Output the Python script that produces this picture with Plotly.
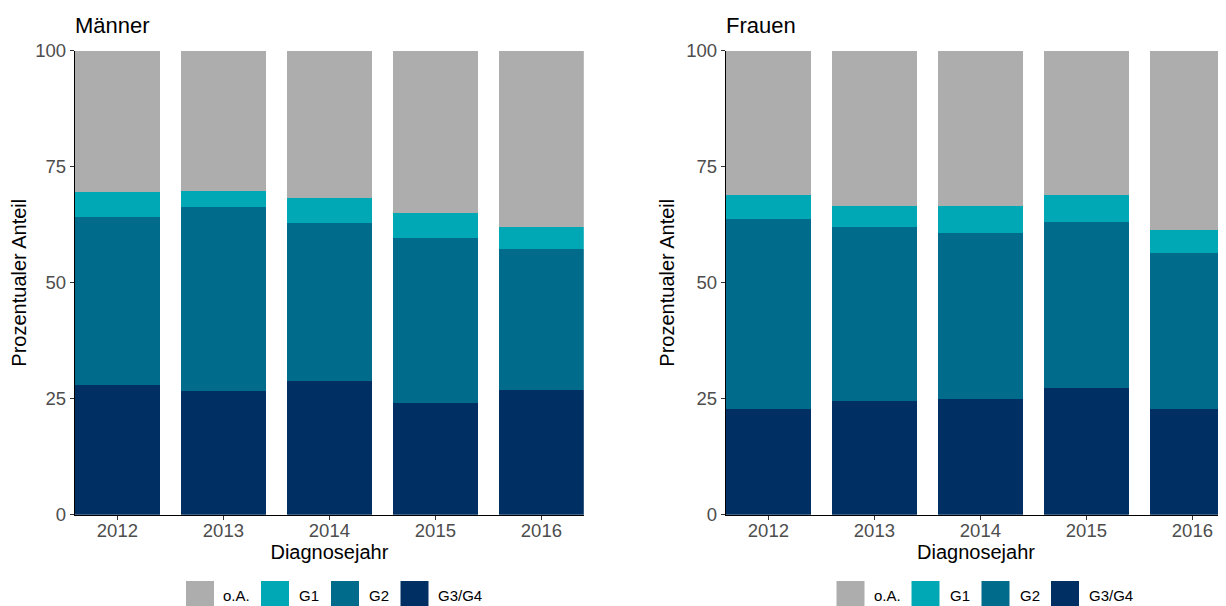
import plotly.graph_objects as go

# ---------------- data ----------------
years = ["2012", "2013", "2014", "2015", "2016"]
categories = ["G3/G4", "G2", "G1", "o.A."]          # stacking order, bottom -> top
legend_order = ["o.A.", "G1", "G2", "G3/G4"]

maenner_g34 = [28.0, 26.7, 28.9, 24.1, 26.9]
maenner_g2 = [36.2, 39.7, 34.0, 35.6, 30.4]
maenner_g1 = [5.4, 3.4, 5.4, 5.4, 4.6]
maenner_oa = [30.4, 30.2, 31.7, 34.9, 38.1]

frauen_g34 = [22.8, 24.4, 25.0, 27.4, 22.8]
frauen_g2 = [41.0, 37.7, 35.8, 35.7, 33.7]
frauen_g1 = [5.0, 4.5, 5.8, 5.7, 4.9]
frauen_oa = [31.2, 33.4, 33.4, 31.2, 38.6]

y_ticks = [0, 25, 50, 75, 100]
panel_titles = ["Männer", "Frauen"]
x_title = "Diagnosejahr"
y_title = "Prozentualer Anteil"

# ---------------- style ----------------
PAGE_OFF = 8                      # default body margin of the html page
W, H = 1226 - PAGE_OFF, 606 - PAGE_OFF
COLORS = {"o.A.": "#ADADAD", "G1": "#00A8B5", "G2": "#006B8B", "G3/G4": "#003063"}
FONT = "Liberation Sans, Arial, Helvetica, sans-serif"


def px(x):
    """window pixel x -> paper fraction"""
    return (x - PAGE_OFF) / W


def py(y):
    """window pixel y -> paper fraction"""
    return (H - (y - PAGE_OFF)) / H


series = {
    "Männer": {"G3/G4": maenner_g34, "G2": maenner_g2, "G1": maenner_g1, "o.A.": maenner_oa},
    "Frauen": {"G3/G4": frauen_g34, "G2": frauen_g2, "G1": frauen_g1, "o.A.": frauen_oa},
}

fig = go.Figure()
for i, panel in enumerate(panel_titles):
    xa = "x" if i == 0 else "x2"
    ya = "y" if i == 0 else "y2"
    for cat in categories:
        fig.add_trace(go.Bar(
            x=years, y=series[panel][cat], name=cat,
            marker=dict(color=COLORS[cat], line=dict(width=0)),
            xaxis=xa, yaxis=ya, showlegend=False,
            hovertemplate=panel + " %{x}<br>" + cat + ": %{y:.1f}%<extra></extra>",
        ))

panel_x0 = [75, 726]          # left edge of each panel's plot area (window px)
panel_x1 = [583.8, 1226]
y_top, y_bot = 50.7, 514.7

axis_common = dict(
    showgrid=False, zeroline=False, showline=True, linecolor="black", linewidth=1.3,
    ticks="outside", ticklen=4, tickwidth=1.1, tickcolor="#333333",
    tickfont=dict(family=FONT, size=18.5, color="#4D4D4D"),
    automargin=False, fixedrange=True,
)

fig.update_layout(
    width=W, height=H, margin=dict(l=0, r=0, t=0, b=0),
    paper_bgcolor="white", plot_bgcolor="white",
    barmode="stack", bargap=0.2,
    font=dict(family=FONT, color="black"),
    showlegend=False,
    xaxis=dict(domain=[px(panel_x0[0]), px(panel_x1[0])], type="category",
               categoryorder="array", categoryarray=years, range=[-0.4, 4.4],
               ticklabelstandoff=-5,
               title=dict(text=x_title, font=dict(size=20, color="black"), standoff=2),
               anchor="y", **axis_common),
    yaxis=dict(domain=[py(y_bot), py(y_top)], range=[0, 100], tickvals=y_ticks,
               title=dict(text=y_title, font=dict(size=20, color="black"), standoff=6),
               anchor="x", **axis_common),
    xaxis2=dict(domain=[px(panel_x0[1]), px(panel_x1[1])], type="category",
                categoryorder="array", categoryarray=years, range=[-0.4, 4.317],
                ticklabelstandoff=-5,
                title=dict(text=x_title, font=dict(size=20, color="black"), standoff=2),
                anchor="y2", **axis_common),
    yaxis2=dict(domain=[py(y_bot), py(y_top)], range=[0, 100], tickvals=y_ticks,
                title=dict(text=y_title, font=dict(size=20, color="black"), standoff=6),
                anchor="x2", **axis_common),
)

annotations = []
shapes = []
# panel titles
for i, t in enumerate(panel_titles):
    annotations.append(dict(
        text=t, x=px(panel_x0[i] - 2), y=py(25.8), xref="paper", yref="paper",
        xanchor="left", yanchor="middle", showarrow=False,
        font=dict(family=FONT, size=22, color="black"),
    ))

# manual legends (one per panel), keys 28 px squares
key_left = [186, 261, 331, 400.5]     # relative to left panel (window px)
text_left = [221, 297, 367, 436]
key_size = 28
key_cy = 595
for i in range(2):
    dx = 0 if i == 0 else 650.5
    for j, cat in enumerate(legend_order):
        x0 = key_left[j] + dx
        shapes.append(dict(
            type="rect", xref="paper", yref="paper",
            x0=px(x0), x1=px(x0 + key_size),
            y0=py(key_cy + key_size / 2), y1=py(key_cy - key_size / 2),
            fillcolor=COLORS[cat], line=dict(width=0), layer="above",
        ))
        annotations.append(dict(
            text=cat, x=px(text_left[j] + dx), y=py(key_cy), xref="paper", yref="paper",
            xanchor="left", yanchor="middle", showarrow=False,
            font=dict(family=FONT, size=15, color="black"),
        ))

fig.update_layout(annotations=annotations, shapes=shapes)

fig.write_html("out.html", config={"displayModeBar": False})
